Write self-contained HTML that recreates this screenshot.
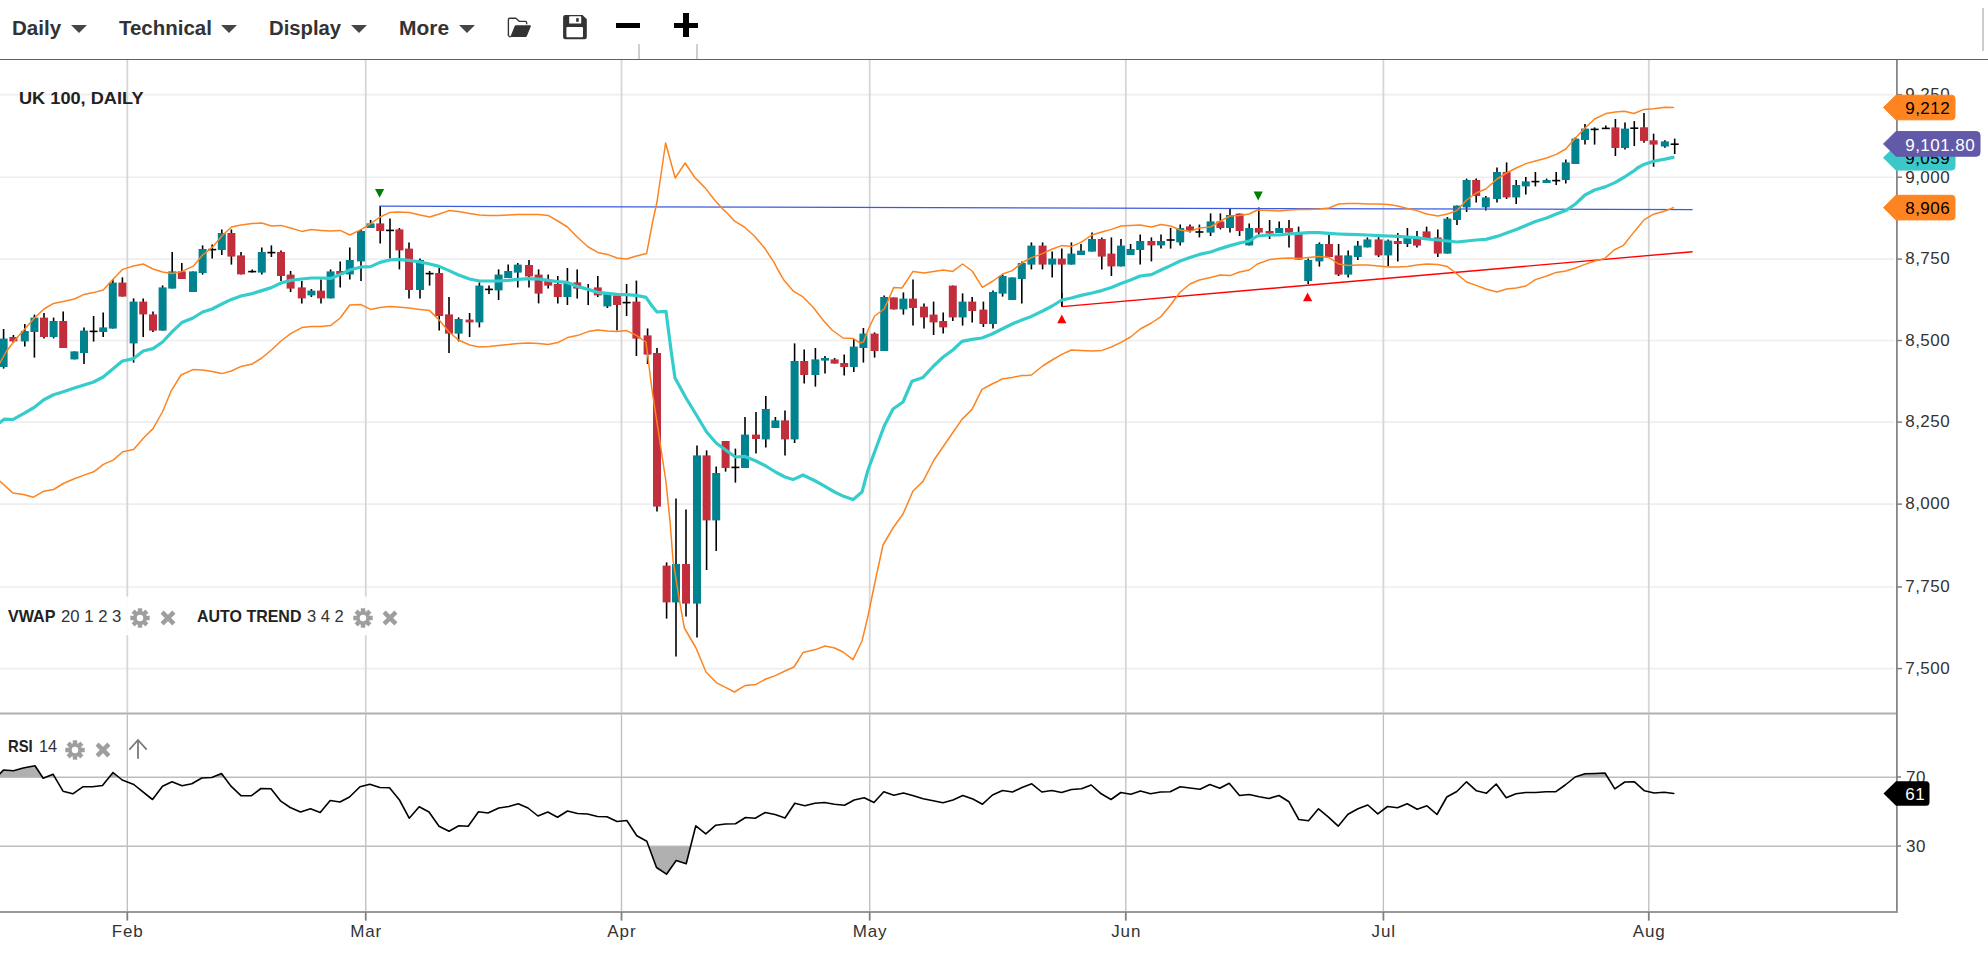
<!DOCTYPE html>
<html><head><meta charset="utf-8"><title>UK 100 Daily</title>
<style>
html,body{margin:0;padding:0;background:#fff}
body{width:1988px;height:956px;position:relative;overflow:hidden;font-family:"Liberation Sans",sans-serif}
.tb{position:absolute;top:15px;font-weight:bold;font-size:19.5px;color:#333;white-space:nowrap;line-height:26px;letter-spacing:0.3px}
.arr{position:absolute;top:25px;width:0;height:0;border-left:8px solid transparent;border-right:8px solid transparent;border-top:8.2px solid #464646}
.lbl{position:absolute;font-size:15.5px;color:#222;white-space:nowrap;line-height:20px}
.lbl b{font-weight:bold}
.hdr{position:absolute;left:0;top:59px;width:1988px;height:1px;background:#606060}
</style></head><body>
<svg width="1988" height="956" viewBox="0 0 1988 956" style="position:absolute;left:0;top:0">
<style>.ax{font-family:"Liberation Sans",sans-serif;font-size:17px;letter-spacing:0.45px}</style>
<line x1="0" x2="1894.5" y1="94.6" y2="94.6" stroke="#eeeeee" stroke-width="1.6"/>
<line x1="0" x2="1894.5" y1="177.2" y2="177.2" stroke="#eeeeee" stroke-width="1.6"/>
<line x1="0" x2="1894.5" y1="259.1" y2="259.1" stroke="#eeeeee" stroke-width="1.6"/>
<line x1="0" x2="1894.5" y1="340.5" y2="340.5" stroke="#eeeeee" stroke-width="1.6"/>
<line x1="0" x2="1894.5" y1="422.1" y2="422.1" stroke="#eeeeee" stroke-width="1.6"/>
<line x1="0" x2="1894.5" y1="504.1" y2="504.1" stroke="#eeeeee" stroke-width="1.6"/>
<line x1="0" x2="1894.5" y1="587.0" y2="587.0" stroke="#eeeeee" stroke-width="1.6"/>
<line x1="0" x2="1894.5" y1="668.6" y2="668.6" stroke="#eeeeee" stroke-width="1.6"/>
<line x1="127.3" x2="127.3" y1="60" y2="712.6" stroke="#d6d6d6" stroke-width="1.8"/>
<line x1="127.3" x2="127.3" y1="714.6" y2="912" stroke="#bebebe" stroke-width="1.3"/>
<line x1="365.75" x2="365.75" y1="60" y2="712.6" stroke="#d6d6d6" stroke-width="1.8"/>
<line x1="365.75" x2="365.75" y1="714.6" y2="912" stroke="#bebebe" stroke-width="1.3"/>
<line x1="621.5" x2="621.5" y1="60" y2="712.6" stroke="#d6d6d6" stroke-width="1.8"/>
<line x1="621.5" x2="621.5" y1="714.6" y2="912" stroke="#bebebe" stroke-width="1.3"/>
<line x1="869.7" x2="869.7" y1="60" y2="712.6" stroke="#d6d6d6" stroke-width="1.8"/>
<line x1="869.7" x2="869.7" y1="714.6" y2="912" stroke="#bebebe" stroke-width="1.3"/>
<line x1="1125.8" x2="1125.8" y1="60" y2="712.6" stroke="#d6d6d6" stroke-width="1.8"/>
<line x1="1125.8" x2="1125.8" y1="714.6" y2="912" stroke="#bebebe" stroke-width="1.3"/>
<line x1="1383.4" x2="1383.4" y1="60" y2="712.6" stroke="#d6d6d6" stroke-width="1.8"/>
<line x1="1383.4" x2="1383.4" y1="714.6" y2="912" stroke="#bebebe" stroke-width="1.3"/>
<line x1="1648.8" x2="1648.8" y1="60" y2="712.6" stroke="#d6d6d6" stroke-width="1.8"/>
<line x1="1648.8" x2="1648.8" y1="714.6" y2="912" stroke="#bebebe" stroke-width="1.3"/>
<line x1="0" x2="1896" y1="777.2" y2="777.2" stroke="#c0c0c0" stroke-width="1.4"/>
<line x1="0" x2="1896" y1="846.2" y2="846.2" stroke="#c0c0c0" stroke-width="1.4"/>
<g shape-rendering="auto">
<line x1="3.6" x2="3.6" y1="329.0" y2="368.6" stroke="#000" stroke-width="1.6"/>
<rect x="-0.4" y="338.6" width="8" height="28.4" fill="#00838f"/>
<line x1="13.4" x2="13.4" y1="335.0" y2="343.0" stroke="#000" stroke-width="1.6"/>
<rect x="9.4" y="337.0" width="8" height="4.4" fill="#c22e3b"/>
<line x1="24.8" x2="24.8" y1="324.0" y2="346.6" stroke="#000" stroke-width="1.6"/>
<rect x="20.8" y="331.0" width="8" height="10.4" fill="#00838f"/>
<line x1="34.4" x2="34.4" y1="314.6" y2="357.6" stroke="#000" stroke-width="1.6"/>
<rect x="30.4" y="317.6" width="8" height="14.4" fill="#00838f"/>
<line x1="44.0" x2="44.0" y1="313.0" y2="338.4" stroke="#000" stroke-width="1.6"/>
<rect x="40.0" y="317.6" width="8" height="19.4" fill="#c22e3b"/>
<line x1="53.6" x2="53.6" y1="317.6" y2="338.4" stroke="#000" stroke-width="1.6"/>
<rect x="49.6" y="321.0" width="8" height="16.0" fill="#00838f"/>
<line x1="63.2" x2="63.2" y1="311.4" y2="348.0" stroke="#000" stroke-width="1.6"/>
<rect x="59.2" y="321.0" width="8" height="27.0" fill="#c22e3b"/>
<line x1="74.4" x2="74.4" y1="351.4" y2="359.4" stroke="#000" stroke-width="1.6"/>
<rect x="70.4" y="351.4" width="8" height="8.0" fill="#00838f"/>
<line x1="84.0" x2="84.0" y1="327.4" y2="364.0" stroke="#000" stroke-width="1.6"/>
<rect x="80.0" y="330.6" width="8" height="22.4" fill="#00838f"/>
<line x1="93.6" x2="93.6" y1="316.0" y2="341.6" stroke="#000" stroke-width="1.6"/>
<line x1="89.6" x2="97.6" y1="331.4" y2="331.4" stroke="#000" stroke-width="1.6"/>
<line x1="103.2" x2="103.2" y1="312.6" y2="337.0" stroke="#000" stroke-width="1.6"/>
<rect x="99.2" y="327.4" width="8" height="4.6" fill="#00838f"/>
<line x1="112.8" x2="112.8" y1="279.0" y2="328.6" stroke="#000" stroke-width="1.6"/>
<rect x="108.8" y="282.6" width="8" height="46.0" fill="#00838f"/>
<line x1="122.4" x2="122.4" y1="277.4" y2="296.6" stroke="#000" stroke-width="1.6"/>
<rect x="118.4" y="282.6" width="8" height="14.0" fill="#c22e3b"/>
<line x1="133.6" x2="133.6" y1="298.4" y2="362.6" stroke="#000" stroke-width="1.6"/>
<rect x="129.6" y="301.6" width="8" height="41.8" fill="#00838f"/>
<line x1="143.2" x2="143.2" y1="298.4" y2="337.0" stroke="#000" stroke-width="1.6"/>
<rect x="139.2" y="301.6" width="8" height="12.8" fill="#c22e3b"/>
<line x1="153.0" x2="153.0" y1="311.4" y2="332.0" stroke="#000" stroke-width="1.6"/>
<rect x="149.0" y="314.4" width="8" height="16.2" fill="#c22e3b"/>
<line x1="162.6" x2="162.6" y1="285.4" y2="330.6" stroke="#000" stroke-width="1.6"/>
<rect x="158.6" y="287.4" width="8" height="43.2" fill="#00838f"/>
<line x1="172.2" x2="172.2" y1="252.0" y2="288.6" stroke="#000" stroke-width="1.6"/>
<rect x="168.2" y="271.4" width="8" height="17.2" fill="#00838f"/>
<line x1="181.8" x2="181.8" y1="263.0" y2="279.0" stroke="#000" stroke-width="1.6"/>
<rect x="177.8" y="271.4" width="8" height="7.6" fill="#c22e3b"/>
<line x1="193.0" x2="193.0" y1="271.4" y2="292.0" stroke="#000" stroke-width="1.6"/>
<rect x="189.0" y="271.4" width="8" height="20.6" fill="#00838f"/>
<line x1="202.6" x2="202.6" y1="245.4" y2="274.6" stroke="#000" stroke-width="1.6"/>
<rect x="198.6" y="249.0" width="8" height="24.0" fill="#00838f"/>
<line x1="212.2" x2="212.2" y1="244.4" y2="258.6" stroke="#000" stroke-width="1.6"/>
<line x1="208.2" x2="216.2" y1="249.6" y2="249.6" stroke="#000" stroke-width="1.6"/>
<line x1="221.8" x2="221.8" y1="229.4" y2="255.0" stroke="#000" stroke-width="1.6"/>
<rect x="217.8" y="233.0" width="8" height="17.0" fill="#00838f"/>
<line x1="231.4" x2="231.4" y1="229.4" y2="264.6" stroke="#000" stroke-width="1.6"/>
<rect x="227.4" y="233.0" width="8" height="23.6" fill="#c22e3b"/>
<line x1="241.0" x2="241.0" y1="252.0" y2="274.4" stroke="#000" stroke-width="1.6"/>
<rect x="237.0" y="255.4" width="8" height="19.0" fill="#c22e3b"/>
<line x1="252.2" x2="252.2" y1="269.4" y2="272.4" stroke="#000" stroke-width="1.6"/>
<line x1="248.2" x2="256.2" y1="271.6" y2="271.6" stroke="#000" stroke-width="1.6"/>
<line x1="261.8" x2="261.8" y1="247.4" y2="274.6" stroke="#000" stroke-width="1.6"/>
<rect x="257.8" y="252.0" width="8" height="20.6" fill="#00838f"/>
<line x1="271.4" x2="271.4" y1="245.4" y2="257.0" stroke="#000" stroke-width="1.6"/>
<line x1="267.4" x2="275.4" y1="252.6" y2="252.6" stroke="#000" stroke-width="1.6"/>
<line x1="281.0" x2="281.0" y1="250.4" y2="281.0" stroke="#000" stroke-width="1.6"/>
<rect x="277.0" y="252.0" width="8" height="24.0" fill="#c22e3b"/>
<line x1="290.6" x2="290.6" y1="271.0" y2="292.0" stroke="#000" stroke-width="1.6"/>
<rect x="286.6" y="274.6" width="8" height="14.0" fill="#c22e3b"/>
<line x1="301.8" x2="301.8" y1="281.0" y2="303.4" stroke="#000" stroke-width="1.6"/>
<rect x="297.8" y="287.4" width="8" height="11.0" fill="#c22e3b"/>
<line x1="311.4" x2="311.4" y1="289.0" y2="297.0" stroke="#000" stroke-width="1.6"/>
<rect x="307.4" y="290.6" width="8" height="4.8" fill="#00838f"/>
<line x1="321.0" x2="321.0" y1="279.4" y2="303.4" stroke="#000" stroke-width="1.6"/>
<rect x="317.0" y="290.6" width="8" height="7.8" fill="#c22e3b"/>
<line x1="330.6" x2="330.6" y1="269.4" y2="298.4" stroke="#000" stroke-width="1.6"/>
<rect x="326.6" y="271.4" width="8" height="27.0" fill="#00838f"/>
<line x1="340.2" x2="340.2" y1="261.6" y2="287.4" stroke="#000" stroke-width="1.6"/>
<rect x="336.2" y="271.0" width="8" height="3.4" fill="#c22e3b"/>
<line x1="349.8" x2="349.8" y1="247.4" y2="279.4" stroke="#000" stroke-width="1.6"/>
<rect x="345.8" y="260.0" width="8" height="14.4" fill="#00838f"/>
<line x1="361.0" x2="361.0" y1="229.4" y2="281.0" stroke="#000" stroke-width="1.6"/>
<rect x="357.0" y="231.0" width="8" height="30.4" fill="#00838f"/>
<line x1="370.6" x2="370.6" y1="220.0" y2="228.0" stroke="#000" stroke-width="1.6"/>
<rect x="366.6" y="223.4" width="8" height="4.6" fill="#00838f"/>
<line x1="380.2" x2="380.2" y1="206.0" y2="243.6" stroke="#000" stroke-width="1.6"/>
<rect x="376.2" y="223.4" width="8" height="7.6" fill="#c22e3b"/>
<line x1="390.0" x2="390.0" y1="218.4" y2="258.6" stroke="#000" stroke-width="1.6"/>
<line x1="386.0" x2="394.0" y1="230.4" y2="230.4" stroke="#000" stroke-width="1.6"/>
<line x1="399.4" x2="399.4" y1="228.0" y2="269.4" stroke="#000" stroke-width="1.6"/>
<rect x="395.4" y="229.4" width="8" height="21.0" fill="#c22e3b"/>
<line x1="409.0" x2="409.0" y1="242.6" y2="298.6" stroke="#000" stroke-width="1.6"/>
<rect x="405.0" y="248.6" width="8" height="41.4" fill="#c22e3b"/>
<line x1="420.0" x2="420.0" y1="258.6" y2="298.6" stroke="#000" stroke-width="1.6"/>
<rect x="416.0" y="260.0" width="8" height="30.0" fill="#00838f"/>
<line x1="429.6" x2="429.6" y1="271.0" y2="285.6" stroke="#000" stroke-width="1.6"/>
<line x1="425.6" x2="433.6" y1="273.6" y2="273.6" stroke="#000" stroke-width="1.6"/>
<line x1="439.2" x2="439.2" y1="267.6" y2="330.6" stroke="#000" stroke-width="1.6"/>
<rect x="435.2" y="273.0" width="8" height="43.0" fill="#c22e3b"/>
<line x1="449.0" x2="449.0" y1="297.0" y2="353.0" stroke="#000" stroke-width="1.6"/>
<rect x="445.0" y="314.4" width="8" height="19.2" fill="#c22e3b"/>
<line x1="458.6" x2="458.6" y1="317.4" y2="341.4" stroke="#000" stroke-width="1.6"/>
<rect x="454.6" y="319.0" width="8" height="14.6" fill="#00838f"/>
<line x1="469.6" x2="469.6" y1="313.0" y2="337.0" stroke="#000" stroke-width="1.6"/>
<rect x="465.6" y="319.6" width="8" height="2.8" fill="#c22e3b"/>
<line x1="479.4" x2="479.4" y1="282.4" y2="327.4" stroke="#000" stroke-width="1.6"/>
<rect x="475.4" y="285.6" width="8" height="36.8" fill="#00838f"/>
<line x1="489.0" x2="489.0" y1="285.6" y2="294.0" stroke="#000" stroke-width="1.6"/>
<line x1="485.0" x2="493.0" y1="289.4" y2="289.4" stroke="#000" stroke-width="1.6"/>
<line x1="498.6" x2="498.6" y1="269.4" y2="300.0" stroke="#000" stroke-width="1.6"/>
<rect x="494.6" y="274.6" width="8" height="15.8" fill="#00838f"/>
<line x1="508.2" x2="508.2" y1="264.6" y2="278.0" stroke="#000" stroke-width="1.6"/>
<rect x="504.2" y="271.0" width="8" height="7.0" fill="#00838f"/>
<line x1="517.8" x2="517.8" y1="263.0" y2="287.4" stroke="#000" stroke-width="1.6"/>
<rect x="513.8" y="264.6" width="8" height="8.0" fill="#00838f"/>
<line x1="529.0" x2="529.0" y1="260.0" y2="287.4" stroke="#000" stroke-width="1.6"/>
<rect x="525.0" y="265.0" width="8" height="11.4" fill="#c22e3b"/>
<line x1="538.6" x2="538.6" y1="269.4" y2="303.4" stroke="#000" stroke-width="1.6"/>
<rect x="534.6" y="274.6" width="8" height="19.0" fill="#c22e3b"/>
<line x1="548.2" x2="548.2" y1="274.6" y2="288.6" stroke="#000" stroke-width="1.6"/>
<rect x="544.2" y="281.0" width="8" height="4.6" fill="#c22e3b"/>
<line x1="557.8" x2="557.8" y1="276.0" y2="303.4" stroke="#000" stroke-width="1.6"/>
<rect x="553.8" y="284.0" width="8" height="13.0" fill="#c22e3b"/>
<line x1="567.4" x2="567.4" y1="268.0" y2="305.0" stroke="#000" stroke-width="1.6"/>
<rect x="563.4" y="282.4" width="8" height="14.6" fill="#00838f"/>
<line x1="577.2" x2="577.2" y1="269.4" y2="298.6" stroke="#000" stroke-width="1.6"/>
<rect x="573.2" y="282.4" width="8" height="6.2" fill="#c22e3b"/>
<line x1="588.2" x2="588.2" y1="284.0" y2="305.0" stroke="#000" stroke-width="1.6"/>
<line x1="597.8" x2="597.8" y1="276.0" y2="297.0" stroke="#000" stroke-width="1.6"/>
<rect x="593.8" y="287.4" width="8" height="8.0" fill="#c22e3b"/>
<line x1="607.4" x2="607.4" y1="292.0" y2="308.0" stroke="#000" stroke-width="1.6"/>
<rect x="603.4" y="293.6" width="8" height="12.8" fill="#00838f"/>
<line x1="617.0" x2="617.0" y1="295.4" y2="330.6" stroke="#000" stroke-width="1.6"/>
<rect x="613.0" y="295.4" width="8" height="9.6" fill="#c22e3b"/>
<line x1="626.6" x2="626.6" y1="284.0" y2="316.0" stroke="#000" stroke-width="1.6"/>
<line x1="622.6" x2="630.6" y1="302.6" y2="302.6" stroke="#000" stroke-width="1.6"/>
<line x1="636.4" x2="636.4" y1="280.6" y2="356.0" stroke="#000" stroke-width="1.6"/>
<rect x="632.4" y="301.6" width="8" height="37.0" fill="#c22e3b"/>
<line x1="647.6" x2="647.6" y1="328.4" y2="364.0" stroke="#000" stroke-width="1.6"/>
<rect x="643.6" y="335.4" width="8" height="19.2" fill="#c22e3b"/>
<line x1="657.0" x2="657.0" y1="348.0" y2="511.6" stroke="#000" stroke-width="1.6"/>
<rect x="653.0" y="353.0" width="8" height="153.6" fill="#c22e3b"/>
<line x1="666.6" x2="666.6" y1="562.4" y2="618.6" stroke="#000" stroke-width="1.6"/>
<rect x="662.6" y="565.6" width="8" height="36.8" fill="#c22e3b"/>
<line x1="676.0" x2="676.0" y1="498.6" y2="656.6" stroke="#000" stroke-width="1.6"/>
<rect x="672.0" y="564.0" width="8" height="38.4" fill="#00838f"/>
<line x1="686.0" x2="686.0" y1="509.6" y2="616.6" stroke="#000" stroke-width="1.6"/>
<rect x="682.0" y="564.0" width="8" height="39.6" fill="#c22e3b"/>
<line x1="697.0" x2="697.0" y1="445.4" y2="637.4" stroke="#000" stroke-width="1.6"/>
<rect x="693.0" y="455.4" width="8" height="148.2" fill="#00838f"/>
<line x1="706.6" x2="706.6" y1="450.4" y2="570.0" stroke="#000" stroke-width="1.6"/>
<rect x="702.6" y="455.4" width="8" height="65.0" fill="#c22e3b"/>
<line x1="716.2" x2="716.2" y1="466.6" y2="551.0" stroke="#000" stroke-width="1.6"/>
<rect x="712.2" y="473.0" width="8" height="47.4" fill="#00838f"/>
<line x1="725.6" x2="725.6" y1="441.0" y2="471.6" stroke="#000" stroke-width="1.6"/>
<rect x="721.6" y="441.0" width="8" height="27.0" fill="#c22e3b"/>
<line x1="735.4" x2="735.4" y1="448.6" y2="482.6" stroke="#000" stroke-width="1.6"/>
<line x1="731.4" x2="739.4" y1="467.4" y2="467.4" stroke="#000" stroke-width="1.6"/>
<line x1="745.0" x2="745.0" y1="417.0" y2="468.0" stroke="#000" stroke-width="1.6"/>
<rect x="741.0" y="434.6" width="8" height="33.4" fill="#00838f"/>
<line x1="756.0" x2="756.0" y1="412.0" y2="453.6" stroke="#000" stroke-width="1.6"/>
<rect x="752.0" y="434.6" width="8" height="4.4" fill="#c22e3b"/>
<line x1="765.8" x2="765.8" y1="396.0" y2="447.4" stroke="#000" stroke-width="1.6"/>
<rect x="761.8" y="409.0" width="8" height="30.4" fill="#00838f"/>
<line x1="775.4" x2="775.4" y1="417.0" y2="428.0" stroke="#000" stroke-width="1.6"/>
<rect x="771.4" y="420.4" width="8" height="7.6" fill="#00838f"/>
<line x1="785.0" x2="785.0" y1="410.6" y2="455.4" stroke="#000" stroke-width="1.6"/>
<rect x="781.0" y="420.4" width="8" height="19.0" fill="#c22e3b"/>
<line x1="794.6" x2="794.6" y1="343.4" y2="443.0" stroke="#000" stroke-width="1.6"/>
<rect x="790.6" y="361.0" width="8" height="78.4" fill="#00838f"/>
<line x1="804.2" x2="804.2" y1="349.4" y2="383.4" stroke="#000" stroke-width="1.6"/>
<rect x="800.2" y="361.0" width="8" height="14.0" fill="#c22e3b"/>
<line x1="815.4" x2="815.4" y1="348.0" y2="386.6" stroke="#000" stroke-width="1.6"/>
<rect x="811.4" y="359.4" width="8" height="15.6" fill="#00838f"/>
<line x1="825.0" x2="825.0" y1="356.0" y2="373.6" stroke="#000" stroke-width="1.6"/>
<rect x="821.0" y="358.0" width="8" height="2.6" fill="#00838f"/>
<line x1="834.6" x2="834.6" y1="358.0" y2="363.6" stroke="#000" stroke-width="1.6"/>
<rect x="830.6" y="359.4" width="8" height="4.2" fill="#c22e3b"/>
<line x1="844.2" x2="844.2" y1="354.4" y2="375.4" stroke="#000" stroke-width="1.6"/>
<rect x="840.2" y="363.0" width="8" height="4.0" fill="#c22e3b"/>
<line x1="853.8" x2="853.8" y1="339.0" y2="372.0" stroke="#000" stroke-width="1.6"/>
<rect x="849.8" y="346.6" width="8" height="20.4" fill="#00838f"/>
<line x1="863.4" x2="863.4" y1="328.0" y2="362.6" stroke="#000" stroke-width="1.6"/>
<rect x="859.4" y="333.6" width="8" height="14.4" fill="#00838f"/>
<line x1="874.6" x2="874.6" y1="332.4" y2="357.6" stroke="#000" stroke-width="1.6"/>
<rect x="870.6" y="333.6" width="8" height="17.4" fill="#c22e3b"/>
<line x1="884.2" x2="884.2" y1="295.4" y2="351.0" stroke="#000" stroke-width="1.6"/>
<rect x="880.2" y="297.0" width="8" height="54.0" fill="#00838f"/>
<line x1="893.8" x2="893.8" y1="297.4" y2="309.4" stroke="#000" stroke-width="1.6"/>
<rect x="889.8" y="297.4" width="8" height="12.0" fill="#c22e3b"/>
<line x1="903.4" x2="903.4" y1="292.4" y2="314.6" stroke="#000" stroke-width="1.6"/>
<rect x="899.4" y="298.6" width="8" height="10.8" fill="#00838f"/>
<line x1="913.0" x2="913.0" y1="279.4" y2="325.6" stroke="#000" stroke-width="1.6"/>
<rect x="909.0" y="298.6" width="8" height="9.4" fill="#c22e3b"/>
<line x1="924.0" x2="924.0" y1="303.4" y2="328.6" stroke="#000" stroke-width="1.6"/>
<rect x="920.0" y="306.6" width="8" height="10.8" fill="#c22e3b"/>
<line x1="933.6" x2="933.6" y1="301.6" y2="335.0" stroke="#000" stroke-width="1.6"/>
<rect x="929.6" y="314.6" width="8" height="7.8" fill="#c22e3b"/>
<line x1="943.2" x2="943.2" y1="312.6" y2="333.6" stroke="#000" stroke-width="1.6"/>
<rect x="939.2" y="321.0" width="8" height="6.4" fill="#c22e3b"/>
<line x1="952.8" x2="952.8" y1="285.6" y2="321.0" stroke="#000" stroke-width="1.6"/>
<rect x="948.8" y="285.6" width="8" height="31.8" fill="#c22e3b"/>
<line x1="962.6" x2="962.6" y1="293.4" y2="325.6" stroke="#000" stroke-width="1.6"/>
<rect x="958.6" y="301.6" width="8" height="15.8" fill="#00838f"/>
<line x1="972.2" x2="972.2" y1="297.0" y2="322.4" stroke="#000" stroke-width="1.6"/>
<rect x="968.2" y="301.6" width="8" height="9.4" fill="#c22e3b"/>
<line x1="983.4" x2="983.4" y1="301.6" y2="327.0" stroke="#000" stroke-width="1.6"/>
<rect x="979.4" y="309.6" width="8" height="14.4" fill="#c22e3b"/>
<line x1="993.0" x2="993.0" y1="290.4" y2="328.6" stroke="#000" stroke-width="1.6"/>
<rect x="989.0" y="292.0" width="8" height="32.0" fill="#00838f"/>
<line x1="1002.6" x2="1002.6" y1="274.6" y2="296.6" stroke="#000" stroke-width="1.6"/>
<rect x="998.6" y="276.0" width="8" height="17.6" fill="#00838f"/>
<line x1="1012.2" x2="1012.2" y1="277.4" y2="300.0" stroke="#000" stroke-width="1.6"/>
<rect x="1008.2" y="277.4" width="8" height="22.6" fill="#00838f"/>
<line x1="1021.8" x2="1021.8" y1="261.6" y2="303.4" stroke="#000" stroke-width="1.6"/>
<rect x="1017.8" y="263.0" width="8" height="16.0" fill="#00838f"/>
<line x1="1031.4" x2="1031.4" y1="242.4" y2="269.4" stroke="#000" stroke-width="1.6"/>
<rect x="1027.4" y="245.6" width="8" height="19.0" fill="#00838f"/>
<line x1="1042.6" x2="1042.6" y1="242.4" y2="269.4" stroke="#000" stroke-width="1.6"/>
<rect x="1038.6" y="245.6" width="8" height="19.0" fill="#c22e3b"/>
<line x1="1052.2" x2="1052.2" y1="251.6" y2="277.6" stroke="#000" stroke-width="1.6"/>
<rect x="1048.2" y="258.6" width="8" height="6.0" fill="#00838f"/>
<line x1="1061.8" x2="1061.8" y1="248.6" y2="306.6" stroke="#000" stroke-width="1.6"/>
<rect x="1057.8" y="258.6" width="8" height="6.0" fill="#c22e3b"/>
<line x1="1071.4" x2="1071.4" y1="242.4" y2="264.6" stroke="#000" stroke-width="1.6"/>
<rect x="1067.4" y="253.6" width="8" height="11.0" fill="#00838f"/>
<line x1="1081.0" x2="1081.0" y1="244.0" y2="255.0" stroke="#000" stroke-width="1.6"/>
<rect x="1077.0" y="250.6" width="8" height="4.4" fill="#00838f"/>
<line x1="1092.0" x2="1092.0" y1="232.6" y2="251.6" stroke="#000" stroke-width="1.6"/>
<rect x="1088.0" y="239.0" width="8" height="12.6" fill="#00838f"/>
<line x1="1101.8" x2="1101.8" y1="237.4" y2="269.4" stroke="#000" stroke-width="1.6"/>
<rect x="1097.8" y="239.0" width="8" height="17.6" fill="#c22e3b"/>
<line x1="1111.4" x2="1111.4" y1="237.4" y2="276.0" stroke="#000" stroke-width="1.6"/>
<rect x="1107.4" y="253.6" width="8" height="12.8" fill="#c22e3b"/>
<line x1="1121.0" x2="1121.0" y1="239.0" y2="266.4" stroke="#000" stroke-width="1.6"/>
<rect x="1117.0" y="245.6" width="8" height="20.8" fill="#00838f"/>
<line x1="1130.6" x2="1130.6" y1="244.0" y2="255.0" stroke="#000" stroke-width="1.6"/>
<rect x="1126.6" y="249.0" width="8" height="6.0" fill="#00838f"/>
<line x1="1140.2" x2="1140.2" y1="234.4" y2="264.6" stroke="#000" stroke-width="1.6"/>
<rect x="1136.2" y="241.0" width="8" height="9.0" fill="#00838f"/>
<line x1="1151.4" x2="1151.4" y1="237.4" y2="261.4" stroke="#000" stroke-width="1.6"/>
<rect x="1147.4" y="241.0" width="8" height="4.4" fill="#c22e3b"/>
<line x1="1161.0" x2="1161.0" y1="234.4" y2="248.6" stroke="#000" stroke-width="1.6"/>
<rect x="1157.0" y="241.0" width="8" height="4.4" fill="#00838f"/>
<line x1="1170.6" x2="1170.6" y1="228.0" y2="248.6" stroke="#000" stroke-width="1.6"/>
<line x1="1166.6" x2="1174.6" y1="240.0" y2="240.0" stroke="#000" stroke-width="1.6"/>
<line x1="1180.2" x2="1180.2" y1="224.6" y2="245.6" stroke="#000" stroke-width="1.6"/>
<rect x="1176.2" y="228.0" width="8" height="14.4" fill="#00838f"/>
<line x1="1190.0" x2="1190.0" y1="224.6" y2="232.6" stroke="#000" stroke-width="1.6"/>
<rect x="1186.0" y="226.4" width="8" height="4.2" fill="#c22e3b"/>
<line x1="1199.4" x2="1199.4" y1="224.6" y2="237.4" stroke="#000" stroke-width="1.6"/>
<line x1="1195.4" x2="1203.4" y1="232.0" y2="232.0" stroke="#000" stroke-width="1.6"/>
<line x1="1210.6" x2="1210.6" y1="213.4" y2="236.0" stroke="#000" stroke-width="1.6"/>
<rect x="1206.6" y="221.4" width="8" height="11.2" fill="#00838f"/>
<line x1="1220.4" x2="1220.4" y1="213.4" y2="229.4" stroke="#000" stroke-width="1.6"/>
<rect x="1216.4" y="221.4" width="8" height="6.6" fill="#c22e3b"/>
<line x1="1230.0" x2="1230.0" y1="208.6" y2="232.6" stroke="#000" stroke-width="1.6"/>
<rect x="1226.0" y="215.0" width="8" height="13.0" fill="#00838f"/>
<line x1="1239.6" x2="1239.6" y1="213.6" y2="236.0" stroke="#000" stroke-width="1.6"/>
<rect x="1235.6" y="213.6" width="8" height="17.4" fill="#c22e3b"/>
<line x1="1249.2" x2="1249.2" y1="223.4" y2="245.4" stroke="#000" stroke-width="1.6"/>
<rect x="1245.2" y="228.0" width="8" height="17.4" fill="#00838f"/>
<line x1="1258.8" x2="1258.8" y1="207.4" y2="234.6" stroke="#000" stroke-width="1.6"/>
<rect x="1254.8" y="228.0" width="8" height="4.6" fill="#c22e3b"/>
<line x1="1269.6" x2="1269.6" y1="220.0" y2="239.0" stroke="#000" stroke-width="1.6"/>
<rect x="1265.6" y="231.0" width="8" height="2.6" fill="#c22e3b"/>
<line x1="1279.2" x2="1279.2" y1="221.6" y2="233.0" stroke="#000" stroke-width="1.6"/>
<rect x="1275.2" y="228.0" width="8" height="5.0" fill="#00838f"/>
<line x1="1289.0" x2="1289.0" y1="220.0" y2="247.4" stroke="#000" stroke-width="1.6"/>
<rect x="1285.0" y="228.0" width="8" height="4.6" fill="#c22e3b"/>
<line x1="1298.6" x2="1298.6" y1="226.6" y2="259.6" stroke="#000" stroke-width="1.6"/>
<rect x="1294.6" y="232.6" width="8" height="27.0" fill="#c22e3b"/>
<line x1="1308.2" x2="1308.2" y1="258.6" y2="284.0" stroke="#000" stroke-width="1.6"/>
<rect x="1304.2" y="260.0" width="8" height="21.0" fill="#00838f"/>
<line x1="1319.4" x2="1319.4" y1="242.4" y2="266.6" stroke="#000" stroke-width="1.6"/>
<rect x="1315.4" y="244.0" width="8" height="17.4" fill="#00838f"/>
<line x1="1329.0" x2="1329.0" y1="234.6" y2="257.0" stroke="#000" stroke-width="1.6"/>
<rect x="1325.0" y="244.0" width="8" height="13.0" fill="#c22e3b"/>
<line x1="1338.6" x2="1338.6" y1="244.0" y2="276.0" stroke="#000" stroke-width="1.6"/>
<rect x="1334.6" y="255.4" width="8" height="19.2" fill="#c22e3b"/>
<line x1="1348.2" x2="1348.2" y1="250.6" y2="277.6" stroke="#000" stroke-width="1.6"/>
<rect x="1344.2" y="255.4" width="8" height="19.2" fill="#00838f"/>
<line x1="1357.8" x2="1357.8" y1="241.0" y2="260.0" stroke="#000" stroke-width="1.6"/>
<rect x="1353.8" y="245.6" width="8" height="11.4" fill="#00838f"/>
<line x1="1367.4" x2="1367.4" y1="237.4" y2="247.4" stroke="#000" stroke-width="1.6"/>
<rect x="1363.4" y="239.4" width="8" height="8.0" fill="#00838f"/>
<line x1="1378.6" x2="1378.6" y1="236.4" y2="257.0" stroke="#000" stroke-width="1.6"/>
<rect x="1374.6" y="239.4" width="8" height="16.0" fill="#c22e3b"/>
<line x1="1388.2" x2="1388.2" y1="239.4" y2="266.0" stroke="#000" stroke-width="1.6"/>
<rect x="1384.2" y="240.6" width="8" height="14.8" fill="#00838f"/>
<line x1="1397.8" x2="1397.8" y1="233.0" y2="261.4" stroke="#000" stroke-width="1.6"/>
<rect x="1393.8" y="241.0" width="8" height="3.0" fill="#c22e3b"/>
<line x1="1407.4" x2="1407.4" y1="228.0" y2="247.0" stroke="#000" stroke-width="1.6"/>
<rect x="1403.4" y="236.0" width="8" height="8.0" fill="#00838f"/>
<line x1="1417.0" x2="1417.0" y1="231.0" y2="247.4" stroke="#000" stroke-width="1.6"/>
<rect x="1413.0" y="237.4" width="8" height="8.2" fill="#c22e3b"/>
<line x1="1426.6" x2="1426.6" y1="226.6" y2="238.0" stroke="#000" stroke-width="1.6"/>
<rect x="1422.6" y="231.4" width="8" height="6.6" fill="#c22e3b"/>
<line x1="1437.8" x2="1437.8" y1="229.6" y2="257.0" stroke="#000" stroke-width="1.6"/>
<rect x="1433.8" y="237.4" width="8" height="16.2" fill="#c22e3b"/>
<line x1="1447.4" x2="1447.4" y1="217.0" y2="253.6" stroke="#000" stroke-width="1.6"/>
<rect x="1443.4" y="218.6" width="8" height="35.0" fill="#00838f"/>
<line x1="1457.0" x2="1457.0" y1="205.6" y2="225.0" stroke="#000" stroke-width="1.6"/>
<rect x="1453.0" y="205.6" width="8" height="14.4" fill="#00838f"/>
<line x1="1466.6" x2="1466.6" y1="178.6" y2="212.0" stroke="#000" stroke-width="1.6"/>
<rect x="1462.6" y="180.0" width="8" height="27.4" fill="#00838f"/>
<line x1="1476.2" x2="1476.2" y1="178.6" y2="202.4" stroke="#000" stroke-width="1.6"/>
<rect x="1472.2" y="180.0" width="8" height="16.0" fill="#c22e3b"/>
<line x1="1485.8" x2="1485.8" y1="196.0" y2="210.6" stroke="#000" stroke-width="1.6"/>
<rect x="1481.8" y="197.4" width="8" height="10.0" fill="#00838f"/>
<line x1="1497.0" x2="1497.0" y1="167.4" y2="202.4" stroke="#000" stroke-width="1.6"/>
<rect x="1493.0" y="172.0" width="8" height="27.0" fill="#00838f"/>
<line x1="1506.6" x2="1506.6" y1="162.4" y2="199.0" stroke="#000" stroke-width="1.6"/>
<rect x="1502.6" y="172.0" width="8" height="25.4" fill="#c22e3b"/>
<line x1="1516.2" x2="1516.2" y1="180.0" y2="204.0" stroke="#000" stroke-width="1.6"/>
<rect x="1512.2" y="185.0" width="8" height="12.4" fill="#00838f"/>
<line x1="1525.8" x2="1525.8" y1="177.0" y2="194.4" stroke="#000" stroke-width="1.6"/>
<rect x="1521.8" y="181.4" width="8" height="5.0" fill="#00838f"/>
<line x1="1535.4" x2="1535.4" y1="172.0" y2="186.4" stroke="#000" stroke-width="1.6"/>
<line x1="1531.4" x2="1539.4" y1="181.6" y2="181.6" stroke="#000" stroke-width="1.6"/>
<line x1="1546.6" x2="1546.6" y1="178.6" y2="183.0" stroke="#000" stroke-width="1.6"/>
<rect x="1542.6" y="180.0" width="8" height="3.0" fill="#00838f"/>
<line x1="1556.2" x2="1556.2" y1="172.0" y2="185.0" stroke="#000" stroke-width="1.6"/>
<line x1="1552.2" x2="1560.2" y1="180.6" y2="180.6" stroke="#000" stroke-width="1.6"/>
<line x1="1565.8" x2="1565.8" y1="159.4" y2="183.4" stroke="#000" stroke-width="1.6"/>
<rect x="1561.8" y="162.4" width="8" height="17.6" fill="#00838f"/>
<line x1="1575.4" x2="1575.4" y1="137.0" y2="164.0" stroke="#000" stroke-width="1.6"/>
<rect x="1571.4" y="138.6" width="8" height="25.4" fill="#00838f"/>
<line x1="1585.0" x2="1585.0" y1="124.0" y2="144.6" stroke="#000" stroke-width="1.6"/>
<rect x="1581.0" y="128.6" width="8" height="11.4" fill="#00838f"/>
<line x1="1594.6" x2="1594.6" y1="127.4" y2="144.6" stroke="#000" stroke-width="1.6"/>
<line x1="1590.6" x2="1598.6" y1="129.4" y2="129.4" stroke="#000" stroke-width="1.6"/>
<line x1="1605.8" x2="1605.8" y1="125.6" y2="129.0" stroke="#000" stroke-width="1.6"/>
<line x1="1601.8" x2="1609.8" y1="128.4" y2="128.4" stroke="#000" stroke-width="1.6"/>
<line x1="1615.4" x2="1615.4" y1="119.0" y2="156.0" stroke="#000" stroke-width="1.6"/>
<rect x="1611.4" y="127.4" width="8" height="20.6" fill="#c22e3b"/>
<line x1="1625.0" x2="1625.0" y1="122.4" y2="149.4" stroke="#000" stroke-width="1.6"/>
<rect x="1621.0" y="128.6" width="8" height="19.4" fill="#00838f"/>
<line x1="1634.3" x2="1634.3" y1="121.1" y2="146.1" stroke="#000" stroke-width="1.6"/>
<line x1="1630.3" x2="1638.3" y1="128.2" y2="128.2" stroke="#000" stroke-width="1.6"/>
<line x1="1644.0" x2="1644.0" y1="113.0" y2="142.7" stroke="#000" stroke-width="1.6"/>
<rect x="1640.0" y="127.3" width="8" height="13.6" fill="#c22e3b"/>
<line x1="1653.6" x2="1653.6" y1="133.7" y2="166.8" stroke="#000" stroke-width="1.6"/>
<rect x="1649.6" y="140.3" width="8" height="4.3" fill="#c22e3b"/>
<line x1="1664.9" x2="1664.9" y1="140.3" y2="147.8" stroke="#000" stroke-width="1.6"/>
<rect x="1660.9" y="141.4" width="8" height="5.1" fill="#00838f"/>
<line x1="1674.7" x2="1674.7" y1="138.6" y2="154.0" stroke="#000" stroke-width="1.6"/>
<line x1="1670.7" x2="1678.7" y1="144.2" y2="144.2" stroke="#000" stroke-width="1.6"/>
</g>
<line x1="379.3" y1="206.2" x2="1692.6" y2="209.6" stroke="#3b5bdb" stroke-width="1.25"/>
<line x1="1061.8" y1="293" x2="1061.8" y2="306.6" stroke="#000" stroke-width="1.6"/>
<line x1="1061.8" y1="306.6" x2="1692.6" y2="251.7" stroke="#ff0000" stroke-width="1.4"/>
<polyline points="0.0,363.0 6.0,352.0 15.0,340.0 24.8,329.0 34.4,318.0 44.0,309.0 53.6,303.4 63.2,301.6 74.4,299.0 84.0,294.4 93.6,292.6 103.2,290.0 112.8,279.6 122.4,269.4 133.6,266.0 143.2,264.0 153.0,269.0 162.6,272.0 172.2,273.4 181.8,271.4 193.0,266.4 202.6,255.0 212.2,247.4 221.8,236.0 231.4,227.0 241.0,225.0 252.2,223.6 261.8,223.0 271.4,226.0 281.0,225.4 290.6,228.0 301.8,231.4 311.4,229.6 321.0,230.4 330.6,231.0 340.2,230.4 349.8,235.0 361.0,229.6 370.6,223.6 380.0,217.0 389.6,212.6 397.4,212.0 409.0,212.6 420.0,215.0 429.6,217.0 439.2,214.0 449.0,210.6 458.6,211.6 469.6,213.6 479.4,215.0 489.0,215.4 498.6,215.6 508.2,215.0 517.8,214.6 529.0,214.4 538.6,214.6 548.2,215.4 557.8,221.0 567.4,227.0 577.2,237.0 588.2,247.0 597.8,252.4 607.4,254.4 617.0,258.0 626.6,259.0 636.4,256.0 646.6,253.6 653.0,220.0 657.0,202.0 665.6,143.0 675.2,178.0 685.1,163.0 694.8,177.5 705.1,187.9 715.0,200.5 724.7,210.9 728.0,214.0 734.6,221.2 744.3,227.0 754.6,236.2 764.3,247.7 774.2,262.7 777.4,269.0 783.8,279.9 793.7,291.4 803.4,297.2 813.3,307.5 823.2,320.2 832.0,330.0 843.0,338.0 853.0,338.4 860.0,343.0 863.4,342.0 868.0,330.0 874.6,316.0 884.2,309.0 893.8,287.4 902.0,288.0 913.0,271.4 924.0,273.0 933.6,271.4 943.2,270.0 952.8,271.4 962.6,264.0 972.2,271.0 982.4,287.4 993.0,281.0 1002.6,274.0 1012.2,270.6 1021.8,263.0 1031.4,257.6 1042.6,253.6 1052.2,249.0 1061.8,245.6 1071.4,246.4 1081.0,242.4 1092.0,235.0 1101.8,232.0 1111.4,229.4 1121.0,226.0 1130.6,225.6 1140.2,225.0 1151.4,227.0 1161.0,224.6 1170.6,226.0 1180.2,230.0 1190.0,231.4 1199.4,228.0 1210.6,227.0 1220.4,221.0 1230.0,216.0 1239.6,215.6 1249.2,214.0 1257.4,210.0 1269.6,210.6 1279.2,211.0 1289.0,210.0 1298.6,209.6 1308.2,209.4 1319.4,209.0 1329.0,208.0 1338.6,204.0 1348.2,203.4 1357.8,203.6 1367.4,204.0 1378.6,204.0 1388.2,204.6 1397.8,206.0 1407.4,208.4 1417.0,210.6 1426.6,214.0 1437.8,216.0 1447.4,214.0 1457.0,210.6 1466.6,200.0 1476.2,193.0 1485.8,189.0 1497.0,179.0 1506.6,173.0 1516.2,168.0 1525.8,163.6 1535.4,161.0 1546.6,158.0 1556.2,154.4 1565.8,149.0 1575.4,138.0 1585.0,128.0 1594.6,119.0 1605.8,113.6 1609.4,113.0 1615.4,112.0 1624.5,111.3 1633.9,113.5 1644.0,109.4 1653.6,108.8 1664.9,107.3 1673.4,107.5" fill="none" stroke="#fd8420" stroke-width="1.5" stroke-linejoin="round" stroke-linecap="round" />
<polyline points="0.0,481.2 12.7,492.9 23.4,494.6 33.5,497.2 43.8,491.2 53.6,489.5 63.3,483.5 74.3,478.8 84.0,475.1 93.7,471.8 103.4,464.4 113.1,460.1 122.8,451.7 133.6,449.4 143.3,438.3 153.0,428.6 162.7,411.5 171.0,391.2 181.0,375.0 193.0,369.6 202.6,370.0 212.2,371.6 221.8,373.6 231.4,371.0 241.0,366.4 252.2,364.0 261.8,358.0 271.4,350.0 281.0,341.0 290.6,333.6 301.8,327.6 311.4,326.6 321.0,326.4 330.6,325.6 340.2,318.0 349.8,305.0 361.0,304.6 370.6,309.4 380.0,307.4 389.6,306.6 397.4,307.0 409.0,308.0 420.0,309.4 429.6,310.6 439.2,320.0 449.0,332.0 458.6,340.0 469.6,345.0 479.4,347.0 489.0,346.6 498.6,345.4 508.2,344.6 517.8,343.4 529.0,343.0 538.6,343.6 548.2,344.4 557.8,342.6 567.4,337.6 577.2,335.6 588.2,331.6 597.8,330.0 607.4,331.0 617.0,331.4 626.6,330.6 636.4,335.4 646.0,342.0 652.0,390.0 660.0,442.0 666.0,482.0 670.0,521.2 673.0,560.0 679.0,598.0 684.4,628.0 696.0,648.0 706.0,672.0 716.2,682.6 725.6,687.4 734.4,692.0 745.0,685.6 756.0,684.4 765.8,679.0 775.4,675.6 785.0,671.0 794.0,667.0 803.0,652.6 815.4,649.6 825.0,646.0 834.6,648.0 843.0,652.0 853.0,659.6 862.0,641.0 868.0,616.0 874.6,584.0 883.0,545.0 893.0,528.0 903.0,514.0 913.0,491.0 923.0,481.4 934.0,460.0 943.6,446.0 953.2,432.0 962.0,419.4 972.0,409.4 982.0,389.4 992.0,384.0 998.0,381.2 1002.0,379.0 1012.0,377.4 1021.8,375.6 1027.4,375.4 1031.4,375.0 1042.6,366.0 1052.2,360.0 1061.8,354.4 1071.4,350.0 1081.0,350.4 1092.0,351.0 1101.8,350.4 1111.4,347.0 1121.0,342.4 1130.6,337.0 1140.2,329.0 1151.4,323.0 1161.0,316.6 1170.6,305.0 1180.2,292.0 1190.0,284.0 1199.4,280.0 1210.6,277.4 1220.4,275.0 1230.0,275.6 1239.6,272.0 1249.2,270.0 1257.4,264.0 1269.6,259.6 1279.2,258.6 1289.0,258.0 1298.6,258.6 1308.2,257.4 1319.4,256.6 1329.0,257.6 1338.6,264.0 1348.2,265.4 1357.8,265.0 1367.4,265.0 1378.6,266.0 1388.2,267.0 1397.8,267.0 1407.4,266.4 1417.0,265.0 1426.6,264.0 1437.8,264.6 1447.4,266.6 1457.0,274.0 1466.6,282.0 1476.2,285.4 1485.8,289.0 1497.0,292.0 1506.6,289.0 1516.2,288.0 1525.8,286.0 1535.4,279.6 1546.6,276.0 1556.2,272.4 1565.8,271.0 1575.4,268.0 1585.0,264.4 1594.6,261.0 1604.7,258.5 1614.1,250.0 1623.5,245.3 1633.9,232.1 1637.4,228.0 1644.0,219.9 1653.6,214.2 1664.9,211.0 1673.4,207.6" fill="none" stroke="#fd8420" stroke-width="1.5" stroke-linejoin="round" stroke-linecap="round" />
<polyline points="0.0,422.6 4.2,419.2 12.7,419.6 24.4,413.2 34.1,407.5 43.8,399.8 53.6,394.8 63.3,391.8 74.4,388.0 84.0,385.0 93.6,382.0 103.2,377.0 112.8,369.0 122.4,361.0 133.6,358.6 143.2,351.0 153.0,348.6 162.6,342.0 172.2,331.6 181.8,322.6 193.0,318.0 202.6,312.0 212.2,309.0 221.8,304.0 231.4,299.4 241.0,296.0 252.2,293.6 261.8,290.6 271.4,287.6 281.0,283.0 290.6,280.4 301.8,279.0 311.4,278.0 321.0,278.0 330.6,278.4 340.2,274.4 349.8,270.0 361.0,267.0 370.6,266.6 380.0,262.4 389.6,260.0 397.4,259.4 409.0,260.4 420.0,262.0 429.6,264.0 439.2,266.4 449.0,270.6 458.6,275.0 469.6,279.0 479.4,281.0 489.0,281.0 498.6,281.0 508.2,280.4 517.8,279.4 529.0,278.6 538.6,279.0 548.2,280.4 557.8,281.6 567.4,282.4 577.2,286.4 588.2,289.4 597.8,292.4 607.4,293.4 617.0,294.4 626.6,294.6 636.4,295.4 646.0,297.4 652.0,306.0 657.0,312.0 666.0,311.4 671.0,350.0 675.0,378.0 686.0,398.0 697.0,416.0 706.6,432.0 716.2,443.0 725.6,450.0 735.4,457.0 745.0,456.4 756.0,461.0 765.8,466.0 775.4,472.0 785.0,477.0 793.0,479.6 803.0,475.0 815.4,481.0 825.0,486.4 834.6,492.0 844.2,496.6 853.0,499.6 862.0,492.0 868.0,470.0 874.6,452.0 884.2,426.0 893.0,409.0 903.0,402.0 912.0,381.2 923.0,377.4 933.6,366.0 943.2,357.0 952.8,350.0 962.0,341.4 972.0,339.4 982.0,338.0 992.0,334.0 1000.0,330.0 1012.2,324.0 1021.8,320.0 1031.4,316.4 1042.6,311.0 1052.2,306.0 1061.8,300.0 1071.4,298.0 1081.0,295.4 1092.0,293.0 1101.8,290.6 1111.4,287.4 1121.0,283.4 1130.6,280.0 1140.2,276.0 1151.4,274.6 1161.0,270.0 1170.6,265.6 1180.2,261.0 1190.0,257.4 1199.4,254.4 1210.6,252.0 1220.4,248.6 1230.0,245.6 1239.6,243.0 1249.2,241.0 1257.4,236.0 1269.6,235.0 1279.2,235.0 1289.0,234.0 1298.6,233.4 1308.2,232.6 1319.4,232.6 1329.0,233.4 1338.6,234.0 1348.2,234.4 1357.8,234.6 1367.4,235.0 1378.6,235.6 1388.2,236.0 1397.8,236.4 1407.4,237.0 1417.0,237.6 1426.6,239.0 1437.8,240.0 1447.4,241.0 1457.0,242.0 1466.6,241.0 1476.2,240.0 1485.8,239.4 1497.0,236.4 1506.6,233.0 1516.2,229.6 1525.8,225.6 1535.4,221.6 1546.6,218.0 1556.2,214.0 1565.8,210.6 1575.4,204.0 1585.0,195.0 1594.6,190.0 1605.8,186.6 1615.4,182.4 1624.5,177.0 1633.9,170.9 1637.4,168.0 1644.0,164.4 1653.6,161.2 1664.9,159.1 1673.0,157.4" fill="none" stroke="#35cccc" stroke-width="3.2" stroke-linejoin="round" stroke-linecap="round" />
<polygon points="375.0,189 384.20000000000005,189 379.6,197.8" fill="#008000"/>
<polygon points="1253.6000000000001,191.6 1262.8,191.6 1258.2,200.4" fill="#008000"/>
<polygon points="1057.2,323.3 1066.3999999999999,323.3 1061.8,314.5" fill="#ff0000"/>
<polygon points="1303.0,301.2 1312.1999999999998,301.2 1307.6,292.4" fill="#ff0000"/>
<rect x="0" y="596.5" width="402" height="38.8" fill="#fff" fill-opacity="0.9"/>
<line x1="0" x2="1897" y1="713.6" y2="713.6" stroke="#b0b0b0" stroke-width="2"/>
<clipPath id="c70"><rect x="0" y="700" width="1897" height="77.5"/></clipPath>
<clipPath id="c30"><rect x="0" y="846.3" width="1897" height="65.70000000000005"/></clipPath>
<polygon points="0.0,777.5 0.0,773.8 3.5,770.0 13.5,770.8 23.2,768.0 35.0,765.8 43.2,778.2 53.0,774.2 63.0,791.2 72.8,793.8 82.8,786.8 92.5,786.8 102.5,785.5 113.0,772.5 122.2,780.0 133.8,784.5 142.0,791.2 152.5,799.5 162.5,786.2 172.0,781.8 182.0,785.8 191.8,783.8 201.8,778.0 211.8,777.5 221.5,773.5 231.0,786.2 241.2,795.8 251.2,795.8 261.0,788.5 271.0,788.8 280.8,801.2 290.2,807.5 300.5,812.0 310.5,808.8 320.2,812.5 330.2,800.5 340.0,802.0 349.5,797.0 360.0,786.8 369.8,784.2 379.8,787.5 389.5,787.8 399.5,800.0 409.2,818.2 419.2,806.8 429.0,812.0 439.0,826.2 449.0,831.2 458.8,825.8 468.2,826.2 478.5,811.8 488.0,813.0 498.8,808.0 508.8,806.5 518.2,803.8 528.0,808.0 538.0,816.0 547.8,812.0 557.5,817.2 567.5,811.0 577.5,813.5 587.5,814.0 597.5,816.5 607.0,816.8 617.0,821.5 626.8,820.5 636.8,835.8 646.8,841.2 656.5,867.5 666.5,874.2 676.2,860.5 686.2,863.8 695.8,825.8 705.8,833.8 715.8,825.2 725.5,824.0 735.5,823.8 745.5,817.5 755.2,818.2 765.2,812.5 775.0,814.5 785.0,818.0 794.8,803.2 804.8,805.8 814.8,803.2 824.5,802.5 834.5,804.2 844.5,805.2 854.2,800.0 864.2,797.8 874.0,802.5 883.8,791.8 893.8,795.2 903.5,793.0 913.5,795.8 923.2,798.8 933.2,800.8 943.0,802.8 953.0,800.0 962.8,795.5 972.8,799.0 982.5,804.2 992.5,795.0 1002.5,790.5 1012.5,792.0 1022.0,787.5 1031.8,783.8 1041.8,792.0 1051.8,790.5 1061.5,792.5 1071.5,789.5 1081.5,788.8 1091.2,785.0 1101.2,793.8 1111.0,799.5 1120.8,792.5 1130.8,794.2 1140.5,791.0 1150.5,793.8 1160.5,792.0 1170.2,791.8 1180.2,786.8 1190.0,788.0 1200.0,789.2 1209.8,784.5 1219.8,788.2 1229.2,783.2 1239.5,795.5 1249.2,794.5 1259.2,796.8 1269.0,798.5 1279.0,795.5 1289.0,801.8 1298.8,819.5 1308.5,820.8 1318.5,808.8 1328.2,816.8 1338.2,826.2 1348.0,814.2 1358.0,808.8 1367.8,805.0 1377.8,813.8 1387.5,806.5 1397.5,807.8 1407.2,803.8 1417.2,809.2 1427.0,805.8 1437.0,814.5 1446.8,797.0 1456.8,791.5 1466.5,781.8 1476.5,790.8 1486.5,793.2 1496.2,784.0 1506.2,797.8 1516.0,793.8 1525.8,792.5 1535.8,792.5 1545.8,791.8 1555.5,791.8 1565.2,785.0 1575.2,777.0 1585.0,773.8 1595.0,773.5 1605.0,773.0 1614.8,788.8 1624.8,782.0 1634.5,781.8 1644.5,790.8 1654.2,793.0 1664.2,792.2 1673.8,793.5 1673.8,777.5" fill="#b0b0b0" clip-path="url(#c70)"/>
<polygon points="0.0,846.3 0.0,773.8 3.5,770.0 13.5,770.8 23.2,768.0 35.0,765.8 43.2,778.2 53.0,774.2 63.0,791.2 72.8,793.8 82.8,786.8 92.5,786.8 102.5,785.5 113.0,772.5 122.2,780.0 133.8,784.5 142.0,791.2 152.5,799.5 162.5,786.2 172.0,781.8 182.0,785.8 191.8,783.8 201.8,778.0 211.8,777.5 221.5,773.5 231.0,786.2 241.2,795.8 251.2,795.8 261.0,788.5 271.0,788.8 280.8,801.2 290.2,807.5 300.5,812.0 310.5,808.8 320.2,812.5 330.2,800.5 340.0,802.0 349.5,797.0 360.0,786.8 369.8,784.2 379.8,787.5 389.5,787.8 399.5,800.0 409.2,818.2 419.2,806.8 429.0,812.0 439.0,826.2 449.0,831.2 458.8,825.8 468.2,826.2 478.5,811.8 488.0,813.0 498.8,808.0 508.8,806.5 518.2,803.8 528.0,808.0 538.0,816.0 547.8,812.0 557.5,817.2 567.5,811.0 577.5,813.5 587.5,814.0 597.5,816.5 607.0,816.8 617.0,821.5 626.8,820.5 636.8,835.8 646.8,841.2 656.5,867.5 666.5,874.2 676.2,860.5 686.2,863.8 695.8,825.8 705.8,833.8 715.8,825.2 725.5,824.0 735.5,823.8 745.5,817.5 755.2,818.2 765.2,812.5 775.0,814.5 785.0,818.0 794.8,803.2 804.8,805.8 814.8,803.2 824.5,802.5 834.5,804.2 844.5,805.2 854.2,800.0 864.2,797.8 874.0,802.5 883.8,791.8 893.8,795.2 903.5,793.0 913.5,795.8 923.2,798.8 933.2,800.8 943.0,802.8 953.0,800.0 962.8,795.5 972.8,799.0 982.5,804.2 992.5,795.0 1002.5,790.5 1012.5,792.0 1022.0,787.5 1031.8,783.8 1041.8,792.0 1051.8,790.5 1061.5,792.5 1071.5,789.5 1081.5,788.8 1091.2,785.0 1101.2,793.8 1111.0,799.5 1120.8,792.5 1130.8,794.2 1140.5,791.0 1150.5,793.8 1160.5,792.0 1170.2,791.8 1180.2,786.8 1190.0,788.0 1200.0,789.2 1209.8,784.5 1219.8,788.2 1229.2,783.2 1239.5,795.5 1249.2,794.5 1259.2,796.8 1269.0,798.5 1279.0,795.5 1289.0,801.8 1298.8,819.5 1308.5,820.8 1318.5,808.8 1328.2,816.8 1338.2,826.2 1348.0,814.2 1358.0,808.8 1367.8,805.0 1377.8,813.8 1387.5,806.5 1397.5,807.8 1407.2,803.8 1417.2,809.2 1427.0,805.8 1437.0,814.5 1446.8,797.0 1456.8,791.5 1466.5,781.8 1476.5,790.8 1486.5,793.2 1496.2,784.0 1506.2,797.8 1516.0,793.8 1525.8,792.5 1535.8,792.5 1545.8,791.8 1555.5,791.8 1565.2,785.0 1575.2,777.0 1585.0,773.8 1595.0,773.5 1605.0,773.0 1614.8,788.8 1624.8,782.0 1634.5,781.8 1644.5,790.8 1654.2,793.0 1664.2,792.2 1673.8,793.5 1673.8,846.3" fill="#b0b0b0" clip-path="url(#c30)"/>
<polyline points="0.0,773.8 3.5,770.0 13.5,770.8 23.2,768.0 35.0,765.8 43.2,778.2 53.0,774.2 63.0,791.2 72.8,793.8 82.8,786.8 92.5,786.8 102.5,785.5 113.0,772.5 122.2,780.0 133.8,784.5 142.0,791.2 152.5,799.5 162.5,786.2 172.0,781.8 182.0,785.8 191.8,783.8 201.8,778.0 211.8,777.5 221.5,773.5 231.0,786.2 241.2,795.8 251.2,795.8 261.0,788.5 271.0,788.8 280.8,801.2 290.2,807.5 300.5,812.0 310.5,808.8 320.2,812.5 330.2,800.5 340.0,802.0 349.5,797.0 360.0,786.8 369.8,784.2 379.8,787.5 389.5,787.8 399.5,800.0 409.2,818.2 419.2,806.8 429.0,812.0 439.0,826.2 449.0,831.2 458.8,825.8 468.2,826.2 478.5,811.8 488.0,813.0 498.8,808.0 508.8,806.5 518.2,803.8 528.0,808.0 538.0,816.0 547.8,812.0 557.5,817.2 567.5,811.0 577.5,813.5 587.5,814.0 597.5,816.5 607.0,816.8 617.0,821.5 626.8,820.5 636.8,835.8 646.8,841.2 656.5,867.5 666.5,874.2 676.2,860.5 686.2,863.8 695.8,825.8 705.8,833.8 715.8,825.2 725.5,824.0 735.5,823.8 745.5,817.5 755.2,818.2 765.2,812.5 775.0,814.5 785.0,818.0 794.8,803.2 804.8,805.8 814.8,803.2 824.5,802.5 834.5,804.2 844.5,805.2 854.2,800.0 864.2,797.8 874.0,802.5 883.8,791.8 893.8,795.2 903.5,793.0 913.5,795.8 923.2,798.8 933.2,800.8 943.0,802.8 953.0,800.0 962.8,795.5 972.8,799.0 982.5,804.2 992.5,795.0 1002.5,790.5 1012.5,792.0 1022.0,787.5 1031.8,783.8 1041.8,792.0 1051.8,790.5 1061.5,792.5 1071.5,789.5 1081.5,788.8 1091.2,785.0 1101.2,793.8 1111.0,799.5 1120.8,792.5 1130.8,794.2 1140.5,791.0 1150.5,793.8 1160.5,792.0 1170.2,791.8 1180.2,786.8 1190.0,788.0 1200.0,789.2 1209.8,784.5 1219.8,788.2 1229.2,783.2 1239.5,795.5 1249.2,794.5 1259.2,796.8 1269.0,798.5 1279.0,795.5 1289.0,801.8 1298.8,819.5 1308.5,820.8 1318.5,808.8 1328.2,816.8 1338.2,826.2 1348.0,814.2 1358.0,808.8 1367.8,805.0 1377.8,813.8 1387.5,806.5 1397.5,807.8 1407.2,803.8 1417.2,809.2 1427.0,805.8 1437.0,814.5 1446.8,797.0 1456.8,791.5 1466.5,781.8 1476.5,790.8 1486.5,793.2 1496.2,784.0 1506.2,797.8 1516.0,793.8 1525.8,792.5 1535.8,792.5 1545.8,791.8 1555.5,791.8 1565.2,785.0 1575.2,777.0 1585.0,773.8 1595.0,773.5 1605.0,773.0 1614.8,788.8 1624.8,782.0 1634.5,781.8 1644.5,790.8 1654.2,793.0 1664.2,792.2 1673.8,793.5" fill="none" stroke="#000" stroke-width="1.6" stroke-linejoin="round" stroke-linecap="round" />
<line x1="1896.9" x2="1896.9" y1="60" y2="913" stroke="#868686" stroke-width="1.8"/>
<line x1="0" x2="1897" y1="912" y2="912" stroke="#999" stroke-width="1.9"/>
<line x1="1897" x2="1902" y1="94.6" y2="94.6" stroke="#777" stroke-width="1.4"/>
<text x="1905.3" y="99.9" fill="#333" class="ax">9,250</text>
<line x1="1897" x2="1902" y1="177.2" y2="177.2" stroke="#777" stroke-width="1.4"/>
<text x="1905.3" y="182.5" fill="#333" class="ax">9,000</text>
<line x1="1897" x2="1902" y1="259.1" y2="259.1" stroke="#777" stroke-width="1.4"/>
<text x="1905.3" y="264.4" fill="#333" class="ax">8,750</text>
<line x1="1897" x2="1902" y1="340.5" y2="340.5" stroke="#777" stroke-width="1.4"/>
<text x="1905.3" y="345.8" fill="#333" class="ax">8,500</text>
<line x1="1897" x2="1902" y1="422.1" y2="422.1" stroke="#777" stroke-width="1.4"/>
<text x="1905.3" y="427.4" fill="#333" class="ax">8,250</text>
<line x1="1897" x2="1902" y1="504.1" y2="504.1" stroke="#777" stroke-width="1.4"/>
<text x="1905.3" y="509.4" fill="#333" class="ax">8,000</text>
<line x1="1897" x2="1902" y1="587.0" y2="587.0" stroke="#777" stroke-width="1.4"/>
<text x="1905.3" y="592.3" fill="#333" class="ax">7,750</text>
<line x1="1897" x2="1902" y1="668.6" y2="668.6" stroke="#777" stroke-width="1.4"/>
<text x="1905.3" y="673.9" fill="#333" class="ax">7,500</text>
<line x1="1897" x2="1901" y1="777.0" y2="777.0" stroke="#777" stroke-width="1.4"/>
<text x="1906" y="783.2" fill="#333" class="ax">70</text>
<line x1="1897" x2="1901" y1="846.0" y2="846.0" stroke="#777" stroke-width="1.4"/>
<text x="1906" y="852.2" fill="#333" class="ax">30</text>
<line x1="127.3" x2="127.3" y1="912" y2="920.6" stroke="#808080" stroke-width="1.8"/>
<text x="127.7" y="937.4" fill="#333" class="ax" style="letter-spacing:0.9px" text-anchor="middle">Feb</text>
<line x1="365.75" x2="365.75" y1="912" y2="920.6" stroke="#808080" stroke-width="1.8"/>
<text x="366.15" y="937.4" fill="#333" class="ax" style="letter-spacing:0.9px" text-anchor="middle">Mar</text>
<line x1="621.5" x2="621.5" y1="912" y2="920.6" stroke="#808080" stroke-width="1.8"/>
<text x="621.9" y="937.4" fill="#333" class="ax" style="letter-spacing:0.9px" text-anchor="middle">Apr</text>
<line x1="869.7" x2="869.7" y1="912" y2="920.6" stroke="#808080" stroke-width="1.8"/>
<text x="870.1" y="937.4" fill="#333" class="ax" style="letter-spacing:0.9px" text-anchor="middle">May</text>
<line x1="1125.8" x2="1125.8" y1="912" y2="920.6" stroke="#808080" stroke-width="1.8"/>
<text x="1126.2" y="937.4" fill="#333" class="ax" style="letter-spacing:0.9px" text-anchor="middle">Jun</text>
<line x1="1383.4" x2="1383.4" y1="912" y2="920.6" stroke="#808080" stroke-width="1.8"/>
<text x="1383.8000000000002" y="937.4" fill="#333" class="ax" style="letter-spacing:0.9px" text-anchor="middle">Jul</text>
<line x1="1648.8" x2="1648.8" y1="912" y2="920.6" stroke="#808080" stroke-width="1.8"/>
<text x="1649.2" y="937.4" fill="#333" class="ax" style="letter-spacing:0.9px" text-anchor="middle">Aug</text>
<path d="M1883.5,207.6 L1896,195.29999999999998 L1951.5,195.29999999999998 Q1955,195.29999999999998 1955,198.79999999999998 L1955,216.4 Q1955,219.9 1951.5,219.9 L1896,219.9 Z" fill="#fd8420" stroke="#fd8420" stroke-width="1" stroke-linejoin="round"/><text x="1905.3" y="214.2" fill="#000" class="ax">8,906</text>
<path d="M1883.5,157.8 L1896,145.5 L1951.5,145.5 Q1955,145.5 1955,149.0 L1955,166.60000000000002 Q1955,170.10000000000002 1951.5,170.10000000000002 L1896,170.10000000000002 Z" fill="#3cc8c8" stroke="#3cc8c8" stroke-width="1" stroke-linejoin="round"/><text x="1905.3" y="164.4" fill="#000" class="ax">9,059</text>
<path d="M1883.5,107.5 L1896,95.2 L1951.5,95.2 Q1955,95.2 1955,98.7 L1955,116.3 Q1955,119.8 1951.5,119.8 L1896,119.8 Z" fill="#fd8420" stroke="#fd8420" stroke-width="1" stroke-linejoin="round"/><text x="1905.3" y="114.1" fill="#000" class="ax">9,212</text>
<path d="M1883.5,143.9 L1896,131.6 L1976.5,131.6 Q1980,131.6 1980,135.1 L1980,152.70000000000002 Q1980,156.20000000000002 1976.5,156.20000000000002 L1896,156.20000000000002 Z" fill="#6259a8" stroke="#6259a8" stroke-width="1" stroke-linejoin="round"/><text x="1905.3" y="150.5" fill="#fff" class="ax">9,101.80</text>
<path d="M1883.5,793.5 L1896,781.2 L1926,781.2 Q1929.5,781.2 1929.5,784.7 L1929.5,802.3 Q1929.5,805.8 1926,805.8 L1896,805.8 Z" fill="#000"/>
<text x="1905.3" y="800.1" fill="#fff" class="ax">61</text>
</svg>
<div class="hdr"></div>
<div style="position:absolute;left:11.74px;top:15.78px;font-size:19.4px;line-height:25px;font-weight:bold;transform:scaleX(1.0601);transform-origin:0 0;color:#333;white-space:nowrap">Daily</div><div class="arr" style="left:70.9px"></div>
<div style="position:absolute;left:118.8px;top:15.78px;font-size:19.4px;line-height:25px;font-weight:bold;transform:scaleX(1.0546);transform-origin:0 0;color:#333;white-space:nowrap">Technical</div><div class="arr" style="left:220.7px"></div>
<div style="position:absolute;left:268.85px;top:15.78px;font-size:19.4px;line-height:25px;font-weight:bold;transform:scaleX(1.0456);transform-origin:0 0;color:#333;white-space:nowrap">Display</div><div class="arr" style="left:350.7px"></div>
<div style="position:absolute;left:399.22px;top:15.78px;font-size:19.4px;line-height:25px;font-weight:bold;transform:scaleX(1.0803);transform-origin:0 0;color:#333;white-space:nowrap">More</div><div class="arr" style="left:458.6px"></div>
<svg style="position:absolute;left:500px;top:8px" width="100" height="38" viewBox="500 8 100 38">
<path d="M508.4 35.2 V19.6 Q508.4 18.2 509.9 18.2 H515.9 L519.5 21.4 H525.2 Q526.7 21.4 526.7 23.0 V23.8" fill="none" stroke="#333" stroke-width="1.35" stroke-linecap="round" stroke-linejoin="round"/>
<path d="M508.4 35 Q508.6 36.6 510.2 36.8" fill="none" stroke="#333" stroke-width="1.35" stroke-linecap="round"/>
<path d="M510.3 36.9 L514.6 26.3 Q515 25.3 516.1 25.3 H530.1 Q531.3 25.3 530.8 26.4 L526.9 36 Q526.5 36.9 525.5 36.9 Z" fill="#333"/>
<path d="M563.1 17.2 Q563.1 15 565.3 15 H582.5 L586.8 19.3 V37 Q586.8 39.2 584.6 39.2 H565.3 Q563.1 39.2 563.1 37 Z" fill="#333"/>
<rect x="569.2" y="16.3" width="12" height="7.3" rx="0.6" fill="#fff"/><rect x="576.2" y="18.1" width="2.5" height="3.7" fill="#333"/>
<rect x="566.4" y="27.1" width="16.6" height="10.1" rx="1" fill="#fff"/>
</svg>
<div style="position:absolute;left:616.1px;top:22.7px;width:23.9px;height:5.3px;background:#000"></div>
<div style="position:absolute;left:673.6px;top:22.7px;width:24.4px;height:5.3px;background:#000"></div>
<div style="position:absolute;left:683px;top:13.3px;width:5.6px;height:23.8px;background:#000"></div>
<div style="position:absolute;left:638.2px;top:44.3px;width:2px;height:14.7px;background:#cfcfcf"></div>
<div style="position:absolute;left:695.6px;top:44.3px;width:2px;height:14.7px;background:#cfcfcf"></div>
<div style="position:absolute;left:1982.3px;top:8px;width:1.7px;height:43px;background:#ccc"></div>
<div style="position:absolute;left:18.53px;top:88.11px;font-size:17px;line-height:22px;font-weight:bold;transform:scaleX(1.069);transform-origin:0 0;color:#222;white-space:nowrap">UK 100, DAILY</div>
<div style="position:absolute;left:7.9px;top:605.68px;font-size:16.5px;line-height:21px;font-weight:bold;transform:scaleX(0.9777);transform-origin:0 0;color:#222;white-space:nowrap">VWAP</div><div style="position:absolute;left:61.3px;top:605.68px;font-size:16.5px;line-height:21px;font-weight:normal;transform:scaleX(1.0125);transform-origin:0 0;color:#333;white-space:nowrap">20 1 2 3</div>
<svg style="position:absolute;left:128.8px;top:606.8px" width="22" height="22" viewBox="-11 -11 22 22"><g fill="#9e9e9e"><rect x="-2.2" y="-9.7" width="4.4" height="4.4" transform="rotate(0)"/><rect x="-2.2" y="-9.7" width="4.4" height="4.4" transform="rotate(45)"/><rect x="-2.2" y="-9.7" width="4.4" height="4.4" transform="rotate(90)"/><rect x="-2.2" y="-9.7" width="4.4" height="4.4" transform="rotate(135)"/><rect x="-2.2" y="-9.7" width="4.4" height="4.4" transform="rotate(180)"/><rect x="-2.2" y="-9.7" width="4.4" height="4.4" transform="rotate(225)"/><rect x="-2.2" y="-9.7" width="4.4" height="4.4" transform="rotate(270)"/><rect x="-2.2" y="-9.7" width="4.4" height="4.4" transform="rotate(315)"/></g><circle r="5.1" fill="none" stroke="#9e9e9e" stroke-width="3.7"/></svg><svg style="position:absolute;left:158.6px;top:609px" width="18" height="18" viewBox="-9 -9 18 18"><path d="M-5.9 -5.9 L5.9 5.9 M5.9 -5.9 L-5.9 5.9" stroke="#9e9e9e" stroke-width="4.4" stroke-linecap="butt"/></svg>
<div style="position:absolute;left:196.5px;top:605.68px;font-size:16.5px;line-height:21px;font-weight:bold;transform:scaleX(0.9681);transform-origin:0 0;color:#222;white-space:nowrap">AUTO TREND</div><div style="position:absolute;left:307.4px;top:605.68px;font-size:16.5px;line-height:21px;font-weight:normal;transform:scaleX(1.0021);transform-origin:0 0;color:#333;white-space:nowrap">3 4 2</div>
<svg style="position:absolute;left:351.6px;top:606.8px" width="22" height="22" viewBox="-11 -11 22 22"><g fill="#9e9e9e"><rect x="-2.2" y="-9.7" width="4.4" height="4.4" transform="rotate(0)"/><rect x="-2.2" y="-9.7" width="4.4" height="4.4" transform="rotate(45)"/><rect x="-2.2" y="-9.7" width="4.4" height="4.4" transform="rotate(90)"/><rect x="-2.2" y="-9.7" width="4.4" height="4.4" transform="rotate(135)"/><rect x="-2.2" y="-9.7" width="4.4" height="4.4" transform="rotate(180)"/><rect x="-2.2" y="-9.7" width="4.4" height="4.4" transform="rotate(225)"/><rect x="-2.2" y="-9.7" width="4.4" height="4.4" transform="rotate(270)"/><rect x="-2.2" y="-9.7" width="4.4" height="4.4" transform="rotate(315)"/></g><circle r="5.1" fill="none" stroke="#9e9e9e" stroke-width="3.7"/></svg><svg style="position:absolute;left:380.6px;top:609px" width="18" height="18" viewBox="-9 -9 18 18"><path d="M-5.9 -5.9 L5.9 5.9 M5.9 -5.9 L-5.9 5.9" stroke="#9e9e9e" stroke-width="4.4" stroke-linecap="butt"/></svg>
<div style="position:absolute;left:8.1px;top:736.28px;font-size:16.5px;line-height:21px;font-weight:bold;transform:scaleX(0.8989);transform-origin:0 0;color:#222;white-space:nowrap">RSI</div><div style="position:absolute;left:39.01px;top:736.28px;font-size:16.5px;line-height:21px;font-weight:normal;transform:scaleX(0.9897);transform-origin:0 0;color:#333;white-space:nowrap">14</div>
<svg style="position:absolute;left:63.849999999999994px;top:738.6px" width="22" height="22" viewBox="-11 -11 22 22"><g fill="#9e9e9e"><rect x="-2.2" y="-9.7" width="4.4" height="4.4" transform="rotate(0)"/><rect x="-2.2" y="-9.7" width="4.4" height="4.4" transform="rotate(45)"/><rect x="-2.2" y="-9.7" width="4.4" height="4.4" transform="rotate(90)"/><rect x="-2.2" y="-9.7" width="4.4" height="4.4" transform="rotate(135)"/><rect x="-2.2" y="-9.7" width="4.4" height="4.4" transform="rotate(180)"/><rect x="-2.2" y="-9.7" width="4.4" height="4.4" transform="rotate(225)"/><rect x="-2.2" y="-9.7" width="4.4" height="4.4" transform="rotate(270)"/><rect x="-2.2" y="-9.7" width="4.4" height="4.4" transform="rotate(315)"/></g><circle r="5.1" fill="none" stroke="#9e9e9e" stroke-width="3.7"/></svg><svg style="position:absolute;left:93.5px;top:740.5px" width="18" height="18" viewBox="-9 -9 18 18"><path d="M-5.9 -5.9 L5.9 5.9 M5.9 -5.9 L-5.9 5.9" stroke="#9e9e9e" stroke-width="4.4" stroke-linecap="butt"/></svg>
<svg style="position:absolute;left:127px;top:738px" width="22" height="22" viewBox="127 738 22 22"><path d="M138 758.8 V740 M129.3 749.6 L138 740 L146.7 749.6" fill="none" stroke="#7a7a7a" stroke-width="1.8"/></svg>
</body></html>
